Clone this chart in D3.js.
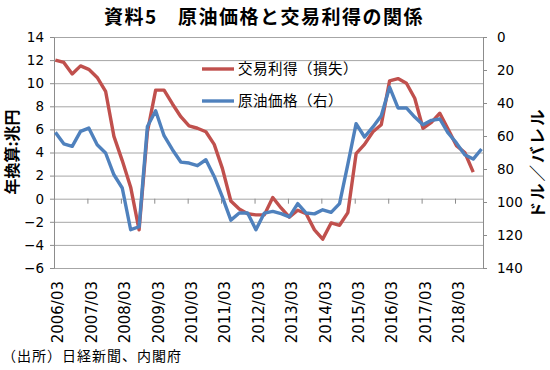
<!DOCTYPE html>
<html><head><meta charset="utf-8">
<script src="https://cdn.jsdelivr.net/npm/d3@7"></script>
<style>
body{margin:0;background:#fff;}
svg{display:block;}
</style></head><body>
<svg id="c" width="550" height="370"></svg>
<script>
const quarters = ["2006/03","2006/06","2006/09","2006/12","2007/03","2007/06","2007/09","2007/12",
"2008/03","2008/06","2008/09","2008/12","2009/03","2009/06","2009/09","2009/12",
"2010/03","2010/06","2010/09","2010/12","2011/03","2011/06","2011/09","2011/12",
"2012/03","2012/06","2012/09","2012/12","2013/03","2013/06","2013/09","2013/12",
"2014/03","2014/06","2014/09","2014/12","2015/03","2015/06","2015/09","2015/12",
"2016/03","2016/06","2016/09","2016/12","2017/03","2017/06","2017/09","2017/12",
"2018/03","2018/06","2018/09","2018/12"];
const tradeGain = [12.0,11.8,10.8,11.5,11.2,10.5,9.3,5.4,3.3,1.0,-2.7,5.8,9.4,9.4,8.2,7.1,6.3,6.1,5.8,4.7,
2.6,-0.2,-0.9,-1.3,-1.4,-1.4,0.1,-0.8,-1.6,-1.0,-1.3,-2.7,-3.5,-2.1,-2.3,-1.2,3.9,4.7,5.8,6.4,
10.2,10.4,10.0,8.7,6.1,6.6,7.4,6.0,4.6,4.0,2.3];
const oilPrice = [57.8,64.7,66.3,57.2,55.2,65.3,70.3,83.5,91.5,116.8,115,54.2,44.7,59.8,68.3,75.8,76.4,78,74.4,84.5,
97,111,106.7,106.7,116.8,106.7,105.7,107,109,101,106.7,107.2,104.7,106.3,101,77,52.5,60.6,54.5,47.7,
30.4,43,43,48.5,53.2,50.5,49.7,58.2,64.2,71.3,74,67.9];
const leftTicks = [-6,-4,-2,0,2,4,6,8,10,12,14];
const rightTicks = [0,20,40,60,80,100,120,140];
const xTickLabels = ["2006/03","2007/03","2008/03","2009/03","2010/03","2011/03","2012/03",
"2013/03","2014/03","2015/03","2016/03","2017/03","2018/03"];
const seriesNames = ["交易利得（損失）","原油価格（右）"];
const colors = ["#C0504D","#4F81BD"];

const svg = d3.select("#c");
const L = 54, R = 483, T = 37, B = 268;
const parseQ = s => { const [y,m] = s.split("/").map(Number); return new Date(y, m-1, 16); };
const parseT = s => { const [y,m] = s.split("/").map(Number); return new Date(y, m-1, 1); };
const x = d3.scaleTime().domain([new Date(2006,2,1), new Date(2019,0,1)]).range([L,R]);
const yL = d3.scaleLinear().domain([-6,14]).range([B,T]);
const yR = d3.scaleLinear().domain([0,140]).range([T,B]);
const grid = "#a6a6a6", axisC = "#8c8c8c";
const numFont = "'DejaVu Sans', sans-serif";
const jpFont = "'Noto Sans CJK JP', sans-serif";

// gridlines
const g = svg.append("g").attr("transform",`translate(${L},0)`)
  .call(d3.axisLeft(yL).tickValues(leftTicks).tickSize(-(R-L)).tickFormat(""));
g.select(".domain").remove();
g.selectAll("line").attr("stroke",grid).attr("stroke-width",1);

// left axis
const la = svg.append("g").attr("transform",`translate(${L},0)`)
  .call(d3.axisLeft(yL).tickValues(leftTicks).tickSize(4).tickSizeOuter(0).tickPadding(6));
la.select(".domain").attr("stroke",axisC);
la.selectAll("line").attr("stroke",axisC);
la.selectAll("text").attr("font-family",numFont).attr("font-size",13.5).attr("fill","#000");

// right axis
const ra = svg.append("g").attr("transform",`translate(${R},0)`)
  .call(d3.axisRight(yR).tickValues(rightTicks).tickSize(4).tickSizeOuter(0).tickPadding(10));
ra.select(".domain").attr("stroke",axisC);
ra.selectAll("line").attr("stroke",axisC);
ra.selectAll("text").attr("font-family",numFont).attr("font-size",13.5).attr("fill","#000");

// zero-line ticks
const za = svg.append("g").attr("transform",`translate(0,${yL(0)})`)
  .call(d3.axisBottom(x).tickValues(xTickLabels.map(parseT)).tickSize(5).tickFormat(""));
za.select(".domain").remove();
za.selectAll("line").attr("stroke",axisC);

// bottom labels
const ba = svg.append("g").attr("transform",`translate(0,${B})`)
  .call(d3.axisBottom(x).tickValues(xTickLabels.map(parseT)).tickSize(0)
    .tickFormat((d,i)=>xTickLabels[i]));
ba.select(".domain").remove();
ba.selectAll("text").attr("font-family",numFont).attr("font-size",15).attr("fill","#000")
  .attr("text-anchor","end").attr("transform","rotate(-90)")
  .attr("x",-13).attr("y",3.5).attr("dy","0.35em");

// lines
const lineL = d3.line().x((d,i)=>x(parseQ(quarters[i]))).y(d=>yL(d));
const lineR = d3.line().x((d,i)=>x(parseQ(quarters[i]))).y(d=>yR(d));
svg.append("path").datum(tradeGain).attr("d",lineL).attr("fill","none")
  .attr("stroke",colors[0]).attr("stroke-width",3.4).attr("stroke-linejoin","round");
svg.append("path").datum(oilPrice).attr("d",lineR).attr("fill","none")
  .attr("stroke",colors[1]).attr("stroke-width",3.4).attr("stroke-linejoin","round");

// legend
const lg = svg.append("g");
seriesNames.forEach((n,i)=>{
  const yy = 69 + i*32;
  lg.append("line").attr("x1",202).attr("x2",234).attr("y1",yy).attr("y2",yy)
    .attr("stroke",colors[i]).attr("stroke-width",3.4);
  lg.append("text").attr("x",238).attr("y",yy).attr("dy","0.35em")
    .attr("font-family",jpFont).attr("font-size",14.5).attr("letter-spacing","0.5px").text(n);
});

// title
svg.append("text").attr("x",264).attr("y",17).attr("dy","0.35em").attr("text-anchor","middle")
  .attr("font-family",jpFont).attr("font-weight","bold").attr("font-size",19).attr("letter-spacing","1.5px")
  .text("資料5　原油価格と交易利得の関係");

// axis titles
svg.append("text").attr("transform","translate(12,152) rotate(-90)").attr("text-anchor","middle")
  .attr("dy","0.35em").attr("font-family",jpFont).attr("font-weight","bold").attr("font-size",16)
  .text("年換算:兆円");
svg.append("text").attr("transform","translate(538,163) rotate(-90)").attr("text-anchor","middle")
  .attr("dy","0.35em").attr("font-family",jpFont).attr("font-weight","bold").attr("font-size",16.5)
  .attr("letter-spacing","2px").text("ドル／バレル");

// source
svg.append("text").attr("x",2).attr("y",356).attr("dy","0.35em")
  .attr("font-family",jpFont).attr("font-size",14).attr("letter-spacing","1px")
  .text("（出所）日経新聞、内閣府");
</script>
</body></html>
